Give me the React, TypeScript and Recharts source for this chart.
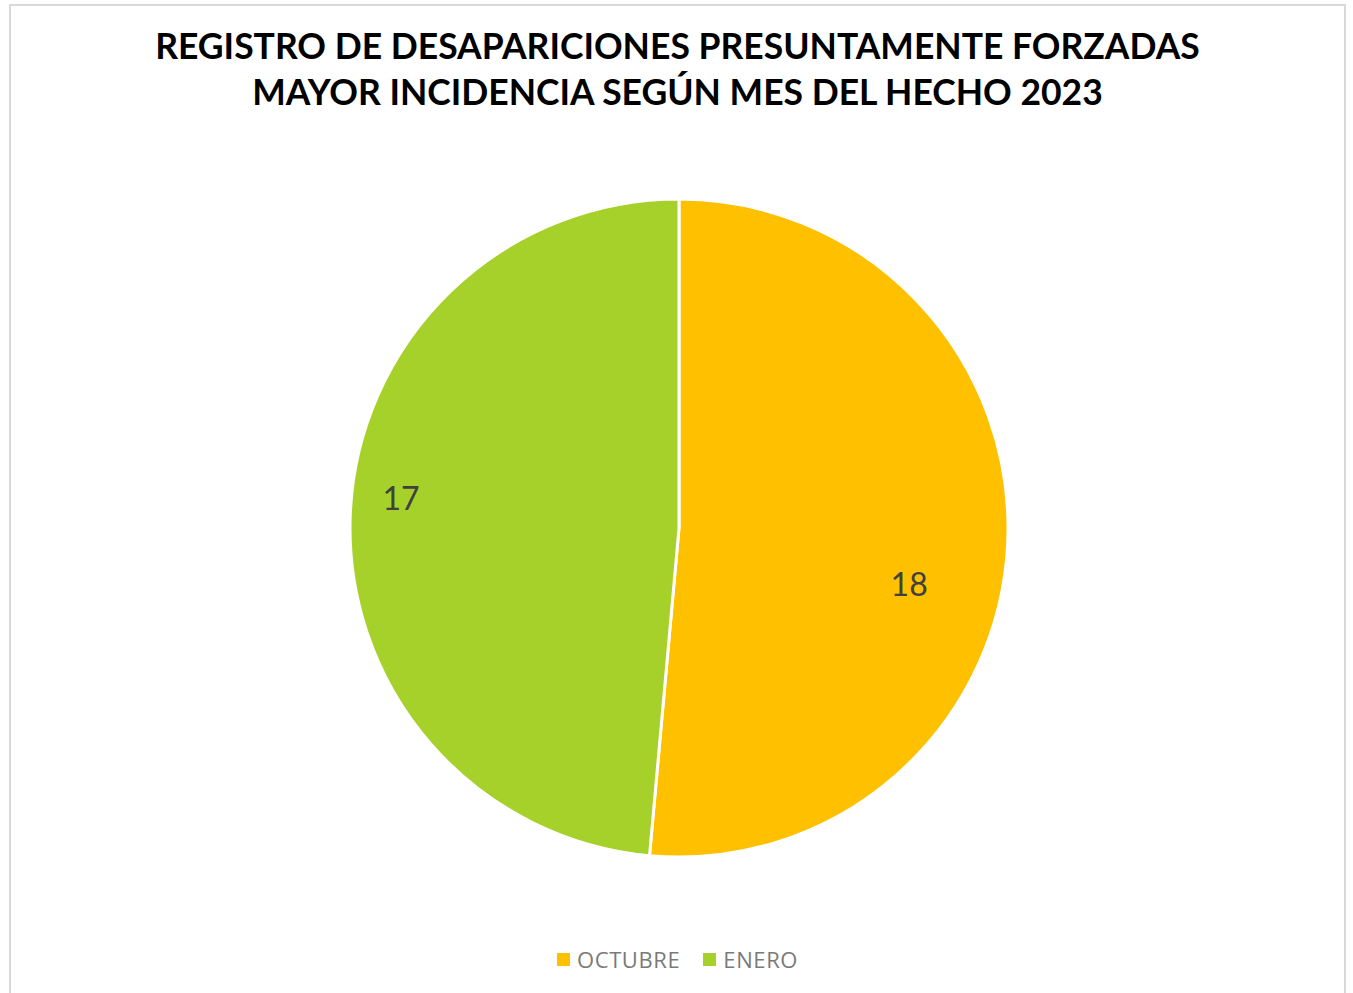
import React from "react";
import { PieChart, Pie, Cell, Legend } from "recharts";

const categories = ["OCTUBRE", "ENERO"];
const values = [18, 17];
const colors = ["#FFC000", "#A6D12A"];
const titleLines = [
  "REGISTRO DE DESAPARICIONES PRESUNTAMENTE FORZADAS",
  "MAYOR INCIDENCIA SEGÚN MES DEL HECHO 2023",
];

const data = categories.map((name, i) => ({ name, value: values[i] }));

// label placement (style): radius fraction and angle offset relative to midAngle
const labelRadiusFrac = [0.72, 0.85];
const labelAngleOffset = [-11.1, -3.6];

const RADIAN = Math.PI / 180;

const renderLabel = (props: any) => {
  const { cx, cy, midAngle, outerRadius, index, value } = props;
  const a = (midAngle + labelAngleOffset[index]) * RADIAN;
  const r = outerRadius * labelRadiusFrac[index];
  const x = cx + r * Math.cos(a);
  const y = cy - r * Math.sin(a);
  return (
    <text
      x={x}
      y={y}
      textAnchor="middle"
      dominantBaseline="central"
      fill="#404040"
      fontFamily="Lato, 'Open Sans', sans-serif"
      fontSize={32}
    >
      {value}
    </text>
  );
};

const renderLegend = () => (
  <div
    style={{
      display: "flex",
      justifyContent: "center",
      alignItems: "center",
      fontFamily: "'Open Sans', Lato, sans-serif",
      fontSize: 22,
      letterSpacing: 0.6,
      color: "#7a7a7a",
    }}
  >
    {categories.map((c, i) => (
      <div key={c} style={{ display: "flex", alignItems: "center", marginRight: i === 0 ? 23 : 0 }}>
        <span
          style={{
            display: "inline-block",
            width: 13,
            height: 13,
            background: colors[i],
            marginRight: 7,
          }}
        />
        <span>{c}</span>
      </div>
    ))}
  </div>
);

export default function App() {
  return (
    <div
      style={{
        position: "absolute",
        left: 9,
        top: 4,
        width: 1337,
        height: 1010,
        border: "2px solid #d9d9d9",
        background: "#fff",
        boxSizing: "border-box",
      }}
    >
      <div
        style={{
          position: "absolute",
          top: 17,
          left: 0,
          width: "100%",
          textAlign: "center",
          fontFamily: "Lato, 'Open Sans', sans-serif",
          fontWeight: 700,
          fontSize: 35.5,
          lineHeight: "46px",
          color: "#000",
        }}
      >
        {titleLines.map((t) => (
          <div key={t}>{t}</div>
        ))}
      </div>
      <div style={{ position: "absolute", left: 0, top: 0 }}>
        <PieChart width={1333} height={1006} margin={{ top: 0, right: 0, bottom: 0, left: 0 }}>
          <Pie
            data={data}
            dataKey="value"
            nameKey="name"
            cx={668}
            cy={522}
            outerRadius={329}
            startAngle={90}
            endAngle={-270}
            stroke="#ffffff"
            strokeWidth={3}
            isAnimationActive={false}
            label={renderLabel}
            labelLine={false}
          >
            {data.map((d, i) => (
              <Cell key={d.name} fill={colors[i]} />
            ))}
          </Pie>
          <Legend
            content={renderLegend}
            verticalAlign="bottom"
            wrapperStyle={{ top: 938, bottom: "auto", left: 0, width: 1333 }}
          />
        </PieChart>
      </div>
    </div>
  );
}
